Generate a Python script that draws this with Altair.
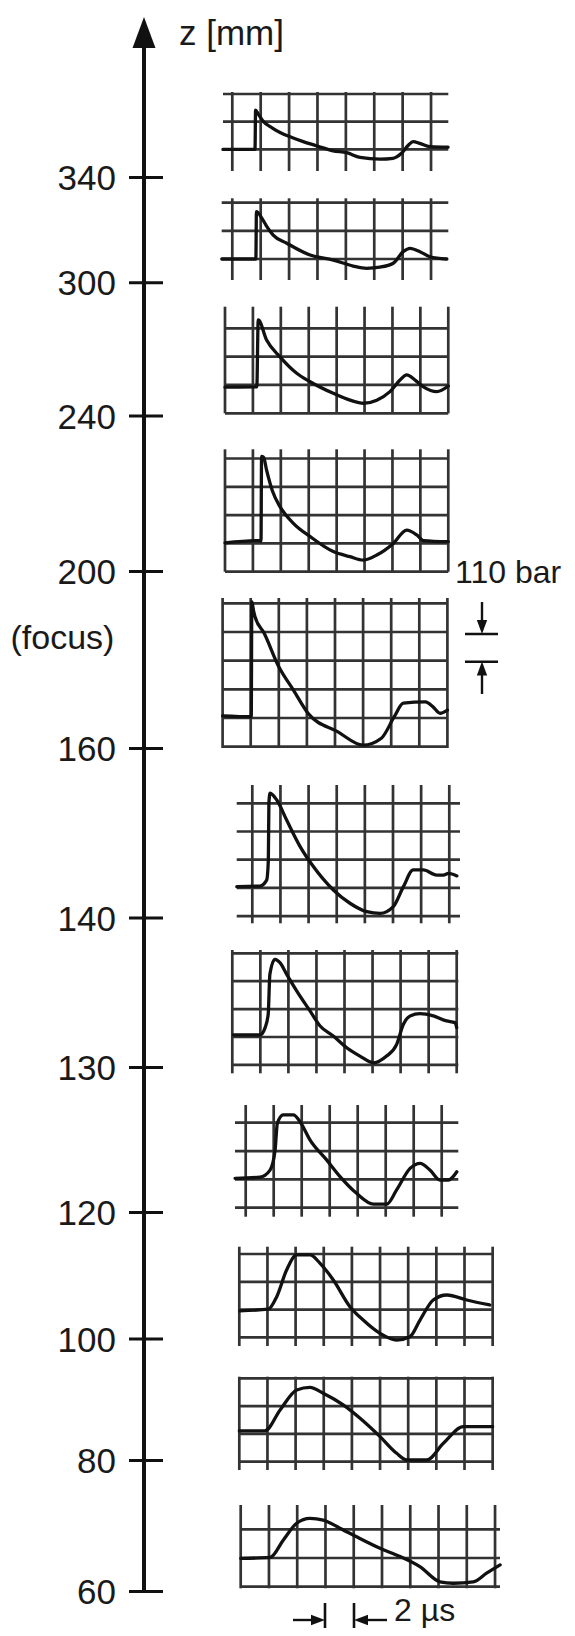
import altair as alt
import pandas as pd

# ---------------- data ----------------
# z axis (mm)
Z_TICKS = [340, 300, 240, 200, 160, 140, 130, 120, 100, 80, 60]
Z_LABELS = [str(z) for z in Z_TICKS]

# oscilloscope traces, in graticule divisions
# (1 horizontal division = 2 µs, 1 vertical division = 110 bar), panels top to bottom
US_PER_DIV = 2
BAR_PER_DIV = 110

W1_T = [-0.33, 0.8, 0.82, 0.9, 1.1, 1.4, 1.7, 2.1, 2.5, 3.0, 3.55, 4.03, 4.5, 5.2, 5.66, 5.96, 6.2, 6.37, 6.6, 6.96, 7.6]
W1_P = [0, 0, 1.42, 1.3, 1.0, 0.78, 0.6, 0.43, 0.28, 0.12, -0.05, -0.12, -0.29, -0.35, -0.32, -0.14, 0.15, 0.28, 0.22, 0.1, 0.08]

W2_T = [-0.37, 0.83, 0.85, 1.04, 1.2, 1.44, 1.92, 2.74, 3.56, 4.26, 4.73, 5.2, 5.67, 6.02, 6.26, 6.61, 6.96, 7.55]
W2_P = [0, 0, 1.68, 1.45, 1.18, 0.85, 0.56, 0.14, -0.04, -0.25, -0.33, -0.29, -0.15, 0.26, 0.38, 0.26, 0.08, 0]

W3_T = [0, 1.14, 1.19, 1.49, 1.97, 2.57, 3.05, 3.88, 4.48, 4.96, 5.44, 5.91, 6.27, 6.51, 6.81, 7.11, 7.59, 8.0]
W3_P = [-0.05, -0.04, 2.32, 1.61, 1.02, 0.44, 0.14, -0.27, -0.51, -0.62, -0.51, -0.21, 0.2, 0.38, 0.2, -0.04, -0.21, -0.01]

W4_T = [0, 1.25, 1.29, 1.31, 1.38, 1.49, 1.7, 1.97, 2.45, 3.05, 3.88, 4.48, 4.96, 5.44, 6.03, 6.51, 6.87, 7.11, 8.0]
W4_P = [0.02, 0.1, 0.08, 3.07, 3.05, 2.59, 1.85, 1.3, 0.71, 0.24, -0.29, -0.47, -0.59, -0.41, 0, 0.47, 0.3, 0.1, 0.06]

W5_T = [0, 1.02, 1.04, 1.1, 1.15, 1.48, 2.0, 2.52, 3.04, 4.09, 5.0, 5.65, 6.11, 6.43, 7.22, 7.48, 7.74, 8.0]
W5_P = [0.03, 0, 4.01, 3.7, 3.5, 2.91, 1.74, 0.93, 0.12, -0.52, -0.99, -0.75, 0, 0.47, 0.52, 0.35, 0.12, 0.23]

W6_T = [-0.55, 0.27, 0.51, 0.57, 0.59, 0.63, 0.87, 1.22, 1.7, 2.17, 2.88, 3.47, 4.07, 4.54, 5.01, 5.37, 5.72, 6.08, 6.55, 6.79, 6.97, 7.27]
W6_P = [0.06, 0.08, 0.29, 1.0, 3.01, 3.37, 3.13, 2.42, 1.48, 0.77, -0.06, -0.53, -0.83, -0.89, -0.65, 0.06, 0.65, 0.65, 0.47, 0.47, 0.53, 0.44]

W7_T = [0.04, 0.99, 1.17, 1.28, 1.34, 1.52, 1.7, 1.94, 2.3, 2.77, 3.13, 3.6, 4.08, 4.55, 5.03, 5.5, 5.86, 6.1, 6.34, 6.69, 7.17, 7.64, 7.94, 8.0]
W7_P = [0.04, 0.04, 0.3, 0.78, 2.21, 2.75, 2.63, 2.21, 1.61, 0.9, 0.36, 0, -0.42, -0.72, -0.96, -0.72, -0.3, 0.42, 0.72, 0.8, 0.72, 0.54, 0.48, 0.3]

W8_T = [-0.38, 0.51, 0.87, 1.05, 1.13, 1.34, 1.7, 1.94, 2.3, 2.89, 3.37, 3.96, 4.56, 5.04, 5.39, 5.87, 6.23, 6.58, 6.94, 7.24, 7.54]
W8_P = [0.06, 0.1, 0.35, 1.06, 2.0, 2.3, 2.3, 2.06, 1.41, 0.71, 0.12, -0.47, -0.85, -0.85, -0.35, 0.41, 0.59, 0.35, 0, 0, 0.29]

W9_T = [0.02, 1.03, 1.33, 1.68, 2.04, 2.51, 2.87, 3.34, 3.93, 4.4, 5.0, 5.59, 6.06, 6.42, 6.89, 7.37, 8.08, 8.9]
W9_P = [-0.03, 0.03, 0.48, 1.44, 1.98, 1.98, 1.68, 1.08, 0.12, -0.36, -0.84, -1.08, -0.96, -0.36, 0.36, 0.54, 0.36, 0.18]

W10_T = [0, 0.91, 1.45, 2.04, 2.51, 2.98, 3.69, 4.29, 5.0, 5.59, 5.95, 6.66, 7.25, 7.96, 8.43, 9.0]
W10_P = [0.09, 0.09, 0.84, 1.56, 1.65, 1.44, 1.02, 0.54, -0.12, -0.72, -0.96, -0.96, -0.36, 0.24, 0.24, 0.24]

W11_T = [0, 1.04, 1.51, 1.98, 2.45, 2.92, 3.51, 4.1, 4.93, 5.64, 6.34, 7.05, 7.52, 8.23, 8.7, 9.18]
W11_P = [0, 0.03, 0.64, 1.22, 1.39, 1.33, 1.05, 0.75, 0.35, 0.06, -0.29, -0.82, -0.87, -0.82, -0.52, -0.23]

TRACES_T = [W1_T, W2_T, W3_T, W4_T, W5_T, W6_T, W7_T, W8_T, W9_T, W10_T, W11_T]
TRACES_P = [W1_P, W2_P, W3_P, W4_P, W5_P, W6_P, W7_P, W8_P, W9_P, W10_P, W11_P]

# ---------------- layout (geometry of the figure, page pixels) ----------------
Z_TICK_Y = [177.5, 282.8, 416.0, 571.5, 748.4, 918.0, 1067.5, 1212.5, 1339.0, 1460.6, 1591.6]
AXIS_X = 144
PANELS = [
    dict(vx0=232.3, dx=28.39, nv=8, vy0=92, vy1=171, hy0=94, dy=27.7, nh=3, hx0=223, hx1=448.3, base=149.4),
    dict(vx0=232.3, dx=28.39, nv=8, vy0=198.3, vy1=280, hy0=202.7, dy=28.15, nh=3, hx0=221.7, hx1=448.3, base=259),
    dict(vx0=225, dx=27.91, nv=9, vy0=306.7, vy1=413.3, hy0=328.3, dy=28.33, nh=4, hx0=225, hx1=448.3, base=385.7),
    dict(vx0=225, dx=27.91, nv=9, vy0=449.3, vy1=571.7, hy0=458.5, dy=28.3, nh=5, hx0=225, hx1=448.3, base=543.4),
    dict(vx0=222.6, dx=28.1, nv=9, vy0=598, vy1=748, hy0=603.3, dy=28.68, nh=6, hx0=222.6, hx1=447.4, base=716.7),
    dict(vx0=252.3, dx=28.14, nv=8, vy0=785, vy1=923.3, hy0=803.3, dy=28.2, nh=5, hx0=236.7, hx1=460, base=888.3),
    dict(vx0=232.3, dx=28.05, nv=9, vy0=950, vy1=1073.3, hy0=953.3, dy=27.9, nh=5, hx0=231.7, hx1=458.3, base=1036),
    dict(vx0=245.7, dx=28.0, nv=8, vy0=1105, vy1=1216.7, hy0=1122.7, dy=28.33, nh=4, hx0=235, hx1=458.3, base=1180),
    dict(vx0=239.3, dx=28.15, nv=10, vy0=1246.7, vy1=1346, hy0=1254, dy=27.8, nh=4, hx0=239.3, hx1=492.7, base=1310),
    dict(vx0=239.3, dx=28.15, nv=10, vy0=1376.7, vy1=1470, hy0=1378.3, dy=27.8, nh=4, hx0=238.3, hx1=493.3, base=1433.3),
    dict(vx0=240.7, dx=28.26, nv=10, vy0=1505, vy1=1588.3, hy0=1529.3, dy=28.7, nh=3, hx0=240, hx1=500, base=1558.3),
]

FONT = "Liberation Sans"
INK = "#111111"
GRID = "#333333"

# ---------------- tables ----------------
grid_rows = []
wave_rows = []
for k, pn in enumerate(PANELS):
    for i in range(pn["nv"]):
        xv = pn["vx0"] + i * pn["dx"]
        grid_rows.append(dict(panel=k, x=xv, x2=xv, y=pn["vy0"], y2=pn["vy1"]))
    for j in range(pn["nh"]):
        yh = pn["hy0"] + j * pn["dy"]
        grid_rows.append(dict(panel=k, x=pn["hx0"], x2=pn["hx1"], y=yh, y2=yh))
    for n, (t, p) in enumerate(zip(TRACES_T[k], TRACES_P[k])):
        t_us = t * US_PER_DIV
        p_bar = p * BAR_PER_DIV
        wave_rows.append(dict(
            panel=k, n=n, t_us=t_us, p_bar=p_bar,
            x=pn["vx0"] + t_us / US_PER_DIV * pn["dx"],
            y=pn["base"] - p_bar / BAR_PER_DIV * pn["dy"],
        ))
grid_df = pd.DataFrame(grid_rows)
wave_df = pd.DataFrame(wave_rows)

# decorations: axis line, 110 bar marker, 2 µs marker
BX = 482
seg_df = pd.DataFrame([
    dict(x=AXIS_X, x2=AXIS_X, y=44, y2=1592, w=4),
    # 110 bar
    dict(x=465, x2=498, y=634, y2=634, w=2.6),
    dict(x=465, x2=498, y=661.7, y2=661.7, w=2.6),
    dict(x=BX, x2=BX, y=602, y2=622, w=2.4),
    dict(x=BX, x2=BX, y=673, y2=694, w=2.4),
    # 2 µs
    dict(x=325, x2=325, y=1603, y2=1636, w=2.6),
    dict(x=354, x2=354, y=1603, y2=1636, w=2.6),
    dict(x=293, x2=312, y=1620, y2=1620, w=2.4),
    dict(x=367, x2=387, y=1620, y2=1620, w=2.4),
])

ARROW = "M -0.74 1 L 0 -1 L 0.74 1 Z"
head_df = pd.DataFrame([
    dict(x=AXIS_X, y=32.5, angle=0, size=31 * 31),
    dict(x=BX, y=627, angle=180, size=14 * 14),
    dict(x=BX, y=668.5, angle=0, size=14 * 14),
    dict(x=318, y=1620, angle=90, size=14 * 14),
    dict(x=361, y=1620, angle=270, size=14 * 14),
])

text_df = pd.DataFrame([
    dict(x=179, y=45, text="z [mm]", size=35),
    dict(x=10.5, y=649, text="(focus)", size=34),
    dict(x=455, y=583, text="110 bar", size=32),
    dict(x=394, y=1621, text="2 µs", size=32),
])

tick_df = pd.DataFrame(dict(z=Z_TICKS, label=Z_LABELS))
tick_df["tx0"] = AXIS_X - 15
tick_df["tx1"] = AXIS_X + 19
tick_df["lx"] = 116

# ---------------- scales ----------------
W, H = 559, 1620
XS = alt.Scale(domain=[8, 8 + W], nice=False, zero=False)
YS = alt.Scale(domain=[8, 8 + H], reverse=True, nice=False, zero=False)
order = sorted(range(len(Z_TICKS)), key=lambda i: Z_TICKS[i])
ZS = alt.Scale(domain=[Z_TICKS[i] for i in order],
               range=[Z_TICK_Y[i] - 8 for i in order], nice=False, zero=False)

grid = alt.Chart(grid_df).mark_rule(color=GRID, strokeWidth=2.7).encode(
    x=alt.X("x:Q", scale=XS, axis=None), x2="x2:Q",
    y=alt.Y("y:Q", scale=YS, axis=None), y2="y2:Q",
)
waves = alt.Chart(wave_df).mark_line(color=INK, strokeWidth=3.3, strokeJoin="round",
                                     strokeCap="round", interpolate="monotone").encode(
    x=alt.X("x:Q", scale=XS, axis=None),
    y=alt.Y("y:Q", scale=YS, axis=None),
    detail="panel:N",
    order="n:Q",
)
segs = alt.Chart(seg_df).mark_rule(color=INK).encode(
    x=alt.X("x:Q", scale=XS, axis=None), x2="x2:Q",
    y=alt.Y("y:Q", scale=YS, axis=None), y2="y2:Q",
    strokeWidth=alt.StrokeWidth("w:Q", scale=None),
)
heads = alt.Chart(head_df).mark_point(shape=ARROW, filled=True, color=INK, opacity=1).encode(
    x=alt.X("x:Q", scale=XS, axis=None),
    y=alt.Y("y:Q", scale=YS, axis=None),
    angle=alt.Angle("angle:Q", scale=None),
    size=alt.Size("size:Q", scale=None),
)
texts = alt.Chart(text_df).mark_text(align="left", baseline="alphabetic", font=FONT, color="#1a1a1a").encode(
    x=alt.X("x:Q", scale=XS, axis=None),
    y=alt.Y("y:Q", scale=YS, axis=None),
    text="text:N",
    size=alt.Size("size:Q", scale=None),
)
page = alt.layer(grid, waves, segs, heads, texts)

zticks = alt.Chart(tick_df).mark_rule(color=INK, strokeWidth=3).encode(
    x=alt.X("tx0:Q", scale=XS, axis=None), x2="tx1:Q",
    y=alt.Y("z:Q", scale=ZS, axis=None),
)
zlabels = alt.Chart(tick_df).mark_text(align="right", baseline="alphabetic", dy=12.5,
                                       font=FONT, fontSize=35, color="#1a1a1a").encode(
    x=alt.X("lx:Q", scale=XS, axis=None),
    y=alt.Y("z:Q", scale=ZS, axis=None),
    text="label:N",
)
zaxis = alt.layer(zticks, zlabels)

chart = alt.layer(page, zaxis).resolve_scale(y="independent").properties(
    width=W, height=H, autosize=alt.AutoSizeParams(type="none"), padding=0,
    background="white",
).configure_view(strokeWidth=0)

chart.save("out.html", embed_options={"renderer": "svg", "actions": False})
